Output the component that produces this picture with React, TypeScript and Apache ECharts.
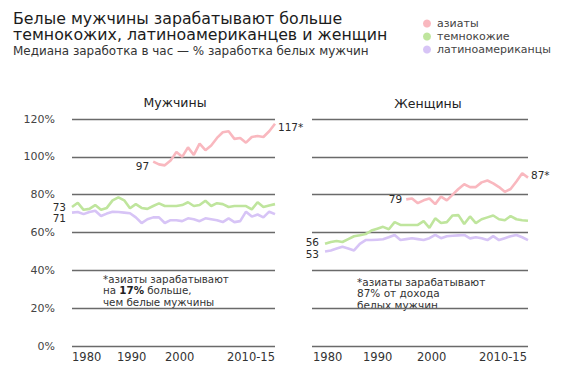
import React, { useEffect, useRef } from "react";
import * as echarts from "echarts";

const YEARS = [
  1980, 1981, 1982, 1983, 1984, 1985, 1986, 1987, 1988, 1989,
  1990, 1991, 1992, 1993, 1994, 1995, 1996, 1997, 1998, 1999,
  2000, 2001, 2002, 2003, 2004, 2005, 2006, 2007, 2008, 2009,
  2010, 2011, 2012, 2013, 2014, 2015,
];
const ASIAN_FIRST_YEAR = 1994;

const SERIES_NAMES = ["азиаты", "темнокожие", "латиноамериканцы"];
const PANEL_TITLES = ["Мужчины", "Женщины"];
const TITLE_LINES = ["Белые мужчины зарабатывают больше", "темнокожих, латиноамериканцев и женщин"];
const SUBTITLE = "Медиана заработка в час — % заработка белых мужчин";

// Men, % of white men's median hourly earnings
const menAsian = [97.5, 96, 95.5, 98, 102.5, 100, 105, 101, 107, 103.5, 106, 110, 113, 113.5, 109.5, 110, 107.5, 110.5, 111, 110.5, 113.5, 117.5];
const menBlack = [73.5, 75.7, 72, 72.5, 74.5, 72, 73, 77, 78.6, 77, 72.8, 75, 73, 72.5, 74, 75.4, 74, 74, 74, 74.5, 76, 74, 74.5, 76.8, 74, 75.5, 75, 73.5, 74, 74, 74, 72.2, 76, 73.5, 74.3, 75];
const menHispanic = [70.5, 70.8, 69.7, 70.8, 71.5, 68.7, 70, 71, 70.8, 70.5, 70.2, 68, 65, 67, 68, 68, 65, 66.5, 66.5, 66, 67.5, 67, 66, 67.5, 67, 66.5, 65.5, 67.5, 65.5, 66, 71, 68.4, 69.5, 68, 71, 69.7];

// Women
const womenAsian = [77.5, 78, 75.5, 77, 78, 75, 79, 77, 80, 83, 85.5, 84, 84, 86.5, 87.5, 86, 84, 81.5, 83, 87, 91.3, 89];
const womenBlack = [54, 55, 55.5, 55, 56.5, 58, 58.5, 59.2, 61, 62, 63, 61.7, 65.5, 64, 64, 64, 64, 66, 62.5, 67.5, 65, 65.5, 69, 69.2, 64.5, 68.5, 65, 67, 68, 69, 67, 66.5, 68.7, 67, 66.5, 66.2];
const womenHispanic = [50, 50.5, 51.5, 52.5, 51.5, 50.5, 54, 56, 56, 56.2, 56.4, 57.5, 58.7, 56, 56.5, 57, 56.5, 56, 57, 58.7, 57, 58, 58.3, 58.5, 58.7, 56.9, 57.5, 57, 56, 58.1, 56, 57, 58, 58.7, 57.5, 56];

// Labels at line ends
const menStartLabels = ["97", "73", "71"];
const menEndLabels = ["117*", "", ""];
const womenStartLabels = ["79", "56", "53"];
const womenEndLabels = ["87*", "", ""];

const Y_TICKS = [0, 20, 40, 60, 80, 100, 120];
const X_TICK_LABELS = ["1980", "1990", "2000", "2010-15"];

const COLORS = ["#f9b8bf", "#bfe59d", "#d7c4f6"];
const FONT = "'DejaVu Sans', sans-serif";
const TEXT = "#2b2b2b";

function buildSeries(
  panel: number,
  values: number[][],
  startLabels: string[],
  endLabels: string[],
  startOffsets: number[][],
  endOffsets: number[][]
) {
  return values.map((vals, k) => {
    const startIdx = k === 0 ? YEARS.indexOf(ASIAN_FIRST_YEAR) : 0;
    const data: any[] = vals.map((v, i) => [YEARS[startIdx + i], v]);
    data[0] = {
      value: data[0],
      label: {
        show: true,
        position: "left",
        distance: 4,
        offset: startOffsets[k],
        formatter: startLabels[k],
        fontSize: 10.5,
        fontFamily: FONT,
        color: TEXT,
      },
    };
    const s: any = {
      type: "line",
      name: SERIES_NAMES[k],
      xAxisIndex: panel,
      yAxisIndex: panel,
      data,
      color: COLORS[k],
      showSymbol: true,
      symbol: "circle",
      symbolSize: 0,
      lineStyle: { width: 2.6, color: COLORS[k] },
      itemStyle: { color: COLORS[k] },
      label: { show: false },
      emphasis: { disabled: true },
      z: 3 - k + 2,
    };
    if (endLabels[k]) {
      s.endLabel = {
        show: true,
        formatter: endLabels[k],
        distance: 3,
        offset: endOffsets[k],
        fontSize: 10.5,
        fontFamily: FONT,
        color: TEXT,
      };
    }
    return s;
  });
}

export default function App() {
  const ref = useRef<HTMLDivElement>(null);

  useEffect(() => {
    if (!ref.current) return;
    const chart = echarts.init(ref.current, null, { renderer: "svg" });

    const yAxisBase = (showLabels: boolean) => ({
      type: "value",
      min: Y_TICKS[0],
      max: Y_TICKS[Y_TICKS.length - 1],
      interval: 20,
      axisLine: { show: false },
      axisTick: { show: false },
      splitLine: { show: true, lineStyle: { color: "#6a6a6a", width: 1.4 } },
      axisLabel: {
        show: showLabels,
        formatter: "{value}%",
        margin: 17,
        fontSize: 11,
        fontFamily: FONT,
        color: "#444",
      },
    });

    const xAxisBase = (min: number) => ({
      type: "value",
      min,
      max: YEARS[YEARS.length - 1],
      axisLine: { show: false },
      axisTick: { show: false },
      axisLabel: { show: false },
      splitLine: { show: false },
    });

    const xLabel = (text: string, x: number, align: string) => ({
      type: "text",
      x,
      y: 357,
      style: {
        text,
        align,
        verticalAlign: "middle",
        fontSize: 11.5,
        fontFamily: FONT,
        fill: "#333",
      },
    });

    const note = (x: number, y: number, lines: string[], size: number) => ({
      type: "text",
      x,
      y,
      style: {
        text: lines.join("\n"),
        fontSize: size,
        lineHeight: 11.5,
        fontFamily: FONT,
        fill: "#333",
        rich: {
          b: { fontSize: size, fontWeight: "bold", fontFamily: FONT, fill: "#222", lineHeight: 11.5 },
        },
      },
    });

    const titleLine = (text: string, y: number) => ({
      type: "text",
      x: 13,
      y,
      style: {
        text,
        fontSize: 15.2,
        verticalAlign: "middle",
        fontFamily: FONT,
        fill: "#1c1c1c",
      },
      scaleX: 1.04,
    });

    const option: any = {
      animation: false,
      backgroundColor: "#fff",
      title: [
        {
          text: PANEL_TITLES[0],
          left: 170,
          textAlign: "center",
          top: 91,
          textStyle: { fontSize: 12.5, fontWeight: "normal", fontFamily: FONT, color: "#222" },
        },
        {
          text: PANEL_TITLES[1],
          left: 423,
          textAlign: "center",
          top: 92,
          textStyle: { fontSize: 12.5, fontWeight: "normal", fontFamily: FONT, color: "#222" },
        },
      ],
      legend: {
        data: SERIES_NAMES,
        orient: "vertical",
        left: 418,
        top: 13,
        icon: "circle",
        itemWidth: 8,
        itemHeight: 8,
        itemGap: 2,
        textStyle: { fontSize: 11, fontFamily: FONT, color: "#444", padding: [0, 0, 0, 1] },
        selectedMode: false,
      },
      grid: [
        { left: 72, right: 288, top: 119, bottom: 35 },
        { left: 312, right: 35, top: 119, bottom: 35 },
      ],
      xAxis: [xAxisBase(YEARS[0]), { ...xAxisBase(1977.75), gridIndex: 1 }],
      yAxis: [yAxisBase(true), { ...yAxisBase(false), gridIndex: 1 }],
      series: [
        ...buildSeries(
          0,
          [menAsian, menBlack, menHispanic],
          menStartLabels,
          menEndLabels,
          [[0, 4], [-2, 0], [-2, 5]],
          [[0, 3]]
        ),
        ...buildSeries(
          1,
          [womenAsian, womenBlack, womenHispanic],
          womenStartLabels,
          womenEndLabels,
          [[0, 0], [-2, -2], [-2, 3]],
          [[0, -3]]
        ),
      ],
      graphic: [
        titleLine(TITLE_LINES[0], 19.5),
        titleLine(TITLE_LINES[1], 35),
        {
          type: "text",
          x: 13,
          y: 51.5,
          style: {
            text: SUBTITLE,
            fontSize: 11.5,
            verticalAlign: "middle",
            fontFamily: FONT,
            fill: "#333",
          },
          scaleX: 1.04,
        },
        xLabel(X_TICK_LABELS[0], 72, "left"),
        xLabel(X_TICK_LABELS[1], 117, "left"),
        xLabel(X_TICK_LABELS[2], 165, "left"),
        xLabel(X_TICK_LABELS[3], 275, "right"),
        xLabel(X_TICK_LABELS[0], 313, "left"),
        xLabel(X_TICK_LABELS[1], 363, "left"),
        xLabel(X_TICK_LABELS[2], 417, "left"),
        xLabel(X_TICK_LABELS[3], 527, "right"),
        note(103, 273, ["*азиаты зарабатывают", "на {b|17%} больше,", "чем белые мужчины"], 10.3),
        note(357, 276, ["*азиаты зарабатывают", "87% от дохода", "белых мужчин"], 10.5),
      ],
    };

    chart.setOption(option);
    return () => chart.dispose();
  }, []);

  return <div ref={ref} style={{ width: 563, height: 381, margin: -8 }} />;
}
